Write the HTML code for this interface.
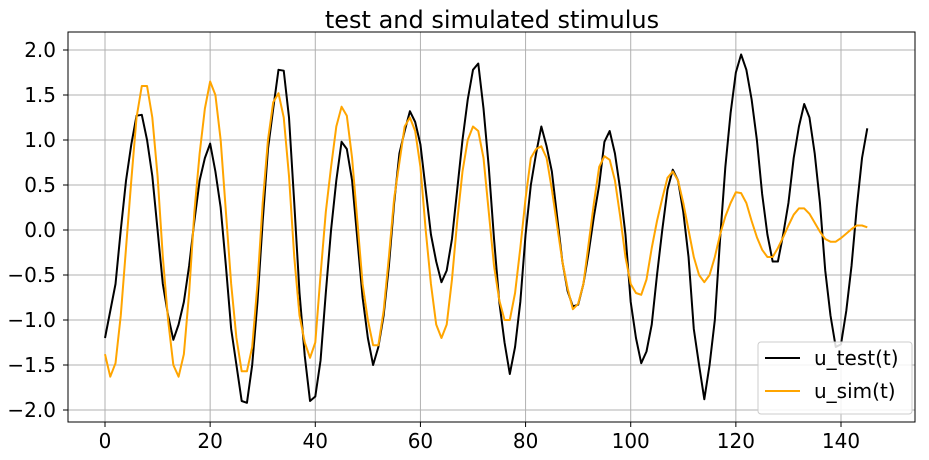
<!DOCTYPE html>
<html><head><meta charset="utf-8"><style>
body{margin:0;background:#fff;}
svg{display:block;font-family:"DejaVu Sans","Liberation Sans",sans-serif;}
</style></head><body>
<svg id="chart" width="929" height="460">
<text x="492" y="28" text-anchor="middle" font-size="24">test and simulated stimulus</text>
<g id="grid"></g><g id="axes"></g><g id="lines"></g>
<rect x="68" y="32" width="847" height="390" fill="none" stroke="#000" stroke-width="1"/>
<g>
<rect x="758" y="342" width="154" height="72" rx="3" fill="#fff" fill-opacity="0.85" stroke="#ccc"/>
<line x1="765" y1="358" x2="800" y2="358" stroke="#000" stroke-width="2"/>
<text x="814" y="365" font-size="20">u_test(t)</text>
<line x1="765" y1="391" x2="800" y2="391" stroke="orange" stroke-width="2"/>
<text x="814" y="398" font-size="20">u_sim(t)</text>
</g>
</svg>
<script>
const xTicks=[0,20,40,60,80,100,120,140];
const yTicks=[-2.0,-1.5,-1.0,-0.5,0.0,0.5,1.0,1.5,2.0];
const uTest=[-1.2,-0.9,-0.6,0,0.55,0.95,1.27,1.28,1.0,0.6,0,-0.6,-0.95,-1.22,-1.05,-0.8,-0.4,0.1,0.55,0.8,0.96,0.65,0.25,-0.4,-1.1,-1.5,-1.9,-1.92,-1.5,-0.8,0.1,0.9,1.35,1.78,1.77,1.25,0.3,-0.7,-1.4,-1.9,-1.85,-1.45,-0.7,0,0.55,0.98,0.9,0.55,-0.1,-0.75,-1.2,-1.5,-1.3,-0.95,-0.4,0.3,0.85,1.1,1.32,1.2,0.95,0.45,-0.05,-0.35,-0.58,-0.45,-0.1,0.45,1.0,1.45,1.78,1.85,1.35,0.7,-0.1,-0.8,-1.25,-1.6,-1.3,-0.8,-0.05,0.5,0.85,1.15,0.93,0.65,0.15,-0.35,-0.68,-0.85,-0.83,-0.6,-0.25,0.15,0.5,0.98,1.1,0.85,0.45,-0.05,-0.8,-1.2,-1.48,-1.35,-1.05,-0.5,0,0.45,0.67,0.55,0.2,-0.3,-1.1,-1.5,-1.88,-1.5,-1.0,-0.1,0.7,1.3,1.75,1.95,1.78,1.45,1.0,0.4,-0.05,-0.35,-0.35,-0.05,0.3,0.8,1.15,1.4,1.25,0.85,0.3,-0.45,-0.95,-1.3,-1.27,-0.9,-0.4,0.25,0.8,1.13];
const uSim=[-1.38,-1.63,-1.48,-0.95,-0.2,0.55,1.25,1.6,1.6,1.25,0.6,-0.3,-1.0,-1.5,-1.63,-1.38,-0.7,0.2,0.85,1.35,1.65,1.5,1.0,0.2,-0.6,-1.2,-1.57,-1.57,-1.3,-0.6,0.3,1.0,1.42,1.52,1.25,0.6,-0.3,-0.95,-1.25,-1.42,-1.25,-0.5,0.2,0.7,1.15,1.37,1.27,0.8,0.1,-0.6,-1.0,-1.28,-1.28,-0.9,-0.3,0.35,0.75,1.15,1.25,1.1,0.7,0.0,-0.6,-1.05,-1.2,-1.05,-0.55,0.1,0.65,1.0,1.15,1.1,0.8,0.2,-0.4,-0.78,-1.0,-1.0,-0.7,-0.2,0.35,0.8,0.9,0.93,0.8,0.45,0.05,-0.35,-0.65,-0.88,-0.82,-0.6,-0.15,0.3,0.7,0.82,0.78,0.55,0.15,-0.3,-0.6,-0.7,-0.72,-0.55,-0.2,0.1,0.35,0.58,0.65,0.55,0.3,0.0,-0.3,-0.5,-0.58,-0.5,-0.3,-0.05,0.15,0.3,0.42,0.41,0.3,0.1,-0.08,-0.22,-0.3,-0.3,-0.2,-0.08,0.05,0.17,0.24,0.24,0.18,0.08,-0.02,-0.1,-0.13,-0.13,-0.09,-0.04,0.01,0.05,0.05,0.03];
const NS="http://www.w3.org/2000/svg";
function xs(v){return 105+v*(841-105)/140;}
function ys(v){return 230-v*90;}
function mk(tag,attrs,parent){const e=document.createElementNS(NS,tag);for(const k in attrs)e.setAttribute(k,attrs[k]);parent.appendChild(e);return e;}
const grid=document.getElementById('grid'),axes=document.getElementById('axes'),lines=document.getElementById('lines');
xTicks.forEach(t=>{
 const g=mk('line',{x1:xs(t),x2:xs(t),y1:32,y2:422,stroke:'#b0b0b0','stroke-width':1},grid);
 
 
 mk('line',{x1:xs(t),x2:xs(t),y1:422,y2:427,stroke:'#000'},axes);
 const l=mk('text',{x:xs(t),y:448,'text-anchor':'middle','font-size':20},axes);
 l.textContent=t;
 
 
});
yTicks.forEach(t=>{
 const g=mk('line',{x1:68,x2:915,y1:ys(t),y2:ys(t),stroke:'#b0b0b0','stroke-width':1},grid);
 
 
 mk('line',{x1:63,x2:68,y1:ys(t),y2:ys(t),stroke:'#000'},axes);
 const l=mk('text',{x:56,y:ys(t)+7,'text-anchor':'end','font-size':20},axes);
 l.textContent=(t<0?'\u2212':'')+Math.abs(t).toFixed(1);
 
 
});
function draw(arr,color,name){
 const d=arr.map((v,i)=>(i?'L':'M')+xs(i).toFixed(2)+','+ys(v).toFixed(2)).join('');
 const p=mk('path',{d:d,fill:'none',stroke:color,'stroke-width':2,'stroke-linejoin':'round'},lines);
 
 
}
draw(uTest,'#000','u-test-line');
draw(uSim,'orange','u-sim-line');
</script>
</body></html>
